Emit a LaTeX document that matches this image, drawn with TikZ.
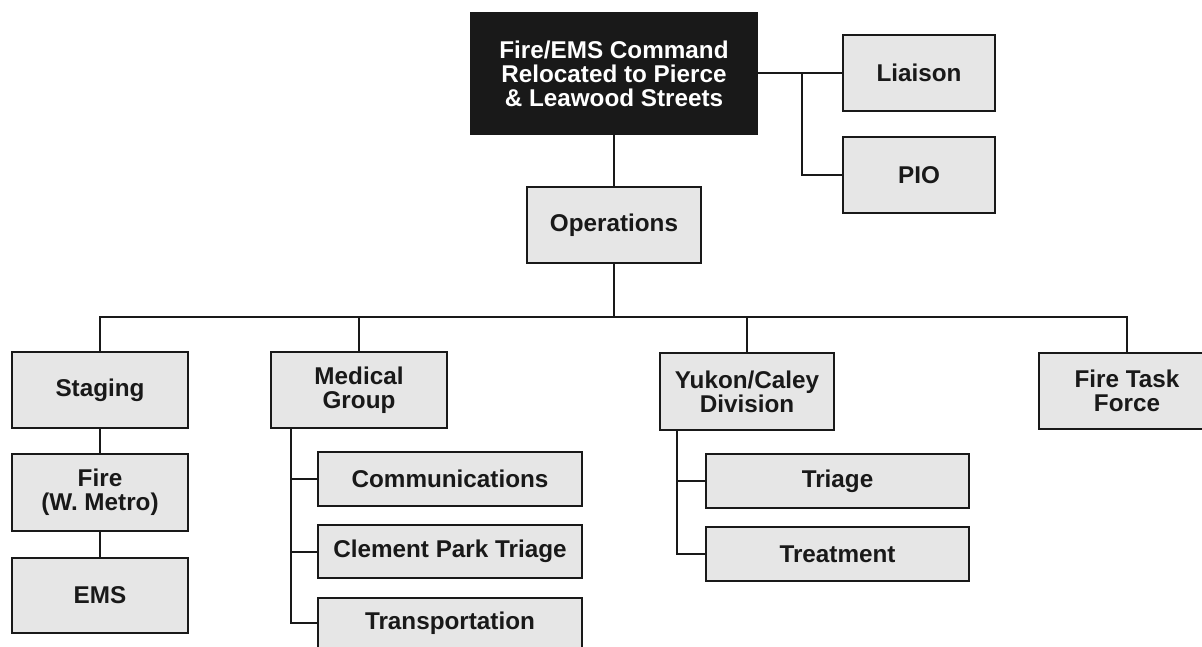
\documentclass[tikz,border=0pt]{standalone}
\usepackage{fontspec}
\setmainfont{Liberation Sans}
\definecolor{boxgray}{RGB}{230,230,230}
\definecolor{ink}{RGB}{25,25,25}
\tikzset{
  box/.style={draw=ink, line width=1.6pt, fill=boxgray, text=ink,
    font=\bfseries\fontsize{18.2}{18}\selectfont, align=center, inner sep=0pt},
  cmdbox/.style={box, fill=ink, text=white},
  conn/.style={draw=ink, line width=1.5pt}
}
\newcommand{\mybox}[7][box]{%
  \node[#1, minimum width={(#5-#3)*0.75pt}, minimum height={(#6-#4)*0.75pt}]
    (#2) at ({(#3+#5)/2},{(#4+#6)/2}) {#7};}
\begin{document}
\begin{tikzpicture}[x=0.75pt,y=-0.75pt]
\useasboundingbox (0,0) rectangle (1202,646);
\clip (0,0) rectangle (1202,646);
\fill[white] (0,0) rectangle (1202,646);

\mybox[cmdbox]{cmd}{471}{13}{757}{134}{Fire/EMS Command\\Relocated to Pierce\\\& Leawood Streets}
\mybox{liaison}{843}{35}{995}{111}{Liaison}
\mybox{pio}{843}{137}{995}{213}{PIO}
\mybox{ops}{527}{187}{701}{263}{Operations}

\mybox{staging}{12}{352}{188}{428}{Staging}
\mybox{fire}{12}{454}{188}{531}{Fire\\(W. Metro)}
\mybox{ems}{12}{558}{188}{633}{EMS}

\mybox{med}{271}{352}{447}{428}{Medical\\Group}
\mybox{comm}{318}{452}{582}{506}{Communications}
\mybox{clem}{318}{525}{582}{578}{Clement Park Triage}
\mybox{trans}{318}{598}{582}{648}{Transportation}

\mybox{yukon}{660}{353}{834}{430}{Yukon/Caley\\Division}
\mybox{triage}{706}{454}{969}{508}{Triage}
\mybox{treat}{706}{527}{969}{581}{Treatment}

\mybox{ftf}{1039}{353}{1215}{429}{Fire Task\\Force}

\coordinate (bus) at (0,317);
\coordinate (jr) at (802,0);
\coordinate (mb) at (291,0);
\coordinate (yb) at (677,0);

% top
\draw[conn] (cmd.south) -- (ops.north);
\draw[conn] (cmd.east |- liaison.west) -- (liaison.west);
\draw[conn] (jr |- liaison.west) |- (pio.west);

% bus
\draw[conn] (ops.south) -- (ops.south |- bus);
\draw[conn] (staging.north) -- (staging.north |- bus) -- (ftf.north |- bus) -- (ftf.north);
\draw[conn] (med.north |- bus) -- (med.north);
\draw[conn] (yukon.north |- bus) -- (yukon.north);

% staging column
\draw[conn] (staging.south) -- (fire.north);
\draw[conn] (fire.south) -- (ems.north);

% medical group
\draw[conn] (mb |- med.south) |- (trans.west);
\draw[conn] (mb |- comm.west) -- (comm.west);
\draw[conn] (mb |- clem.west) -- (clem.west);

% yukon
\draw[conn] (yb |- yukon.south) |- (treat.west);
\draw[conn] (yb |- triage.west) -- (triage.west);
\end{tikzpicture}
\end{document}
